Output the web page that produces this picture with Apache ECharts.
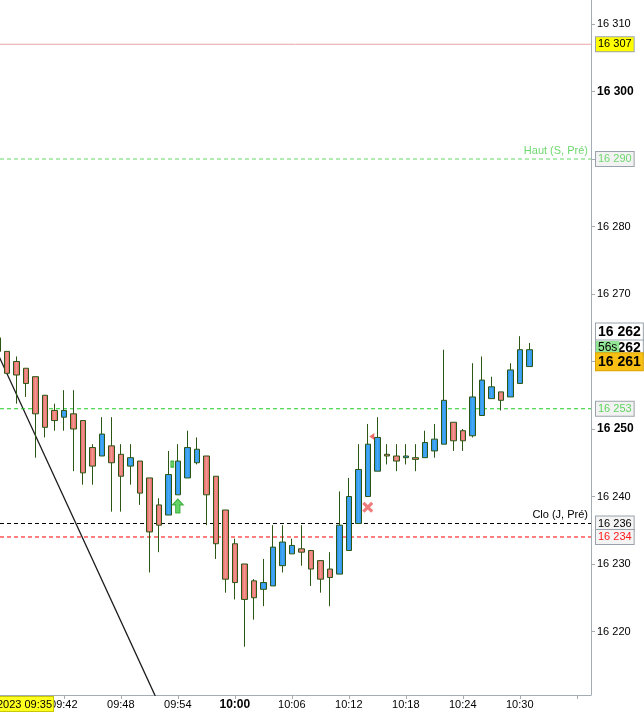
<!DOCTYPE html>
<html>
<head>
<meta charset="utf-8">
<title>chart</title>
<script src="https://cdn.jsdelivr.net/npm/echarts@6.0.0/dist/echarts.min.js"></script>
<style>
html,body{margin:0;padding:0;background:#fff;}
#chart{width:644px;height:712px;}
</style>
</head>
<body>
<div id="chart"></div>
<script>
// 1 minute bars, 09:35 -> 10:31
var times = ['09:35','09:36','09:37','09:38','09:39','09:40','09:41','09:42','09:43','09:44',
  '09:45','09:46','09:47','09:48','09:49','09:50','09:51','09:52','09:53','09:54',
  '09:55','09:56','09:57','09:58','09:59','10:00','10:01','10:02','10:03','10:04',
  '10:05','10:06','10:07','10:08','10:09','10:10','10:11','10:12','10:13','10:14',
  '10:15','10:16','10:17','10:18','10:19','10:20','10:21','10:22','10:23','10:24',
  '10:25','10:26','10:27','10:28','10:29','10:30','10:31'];
var opens = [16263.5,16261.5,16260,16259,16257.75,16255,16252.75,16251.75,16252.25,16251.25,
  16247.25,16246,16247.5,16246.25,16244.5,16245.25,16242.75,16238.75,16237.25,16240.25,
  16242.75,16245,16246,16243,16238,16233,16230,16227.5,16226.25,16226.75,
  16229.75,16231.5,16232.25,16232,16230.5,16229.25,16228.5,16232,16236,16240,
  16243.75,16246.25,16246,16245.75,16245.75,16245.75,16246.75,16247.75,16251,16249.75,
  16249,16252,16254.5,16255.5,16254.75,16256.75,16259.25];
var closes = [16261.5,16258.25,16258,16256.75,16252.25,16250.25,16251.25,16252.75,16250,16243.5,
  16244.5,16249.25,16245,16243,16245.75,16240.5,16234.75,16235.75,16243.25,16245.25,
  16247.25,16247,16240.25,16233,16227.75,16227.25,16224.75,16225,16227.25,16232.5,
  16233.25,16232.75,16231.75,16229.25,16227.75,16228,16235.75,16240,16244,16247.75,
  16248.75,16246,16245.25,16246,16245.5,16248,16248.5,16254.25,16248.25,16248.25,
  16254.75,16257.25,16256.25,16254.25,16258.75,16261.75,16261.75];
var lows = [16259,16258.25,16253.75,16254.75,16245.75,16248.75,16249.75,16249.75,16243.75,16241.75,
  16241.75,16246,16237.75,16237.75,16241.75,16238.75,16228.75,16231.75,16237.25,16240.25,
  16242.75,16244.75,16235.75,16230.75,16225.75,16224.75,16217.75,16221.75,16223.75,16226.75,
  16228.75,16231.5,16229.75,16226.75,16225.75,16223.75,16228.5,16232,16236,16240,
  16243.75,16244.75,16243.75,16244.75,16243.75,16245.75,16245.75,16247.75,16246.75,16246.75,
  16248.75,16252,16254.5,16252.75,16254.75,16256.75,16259.25];
var highs = [16264,16261.5,16260.75,16259,16257.75,16255,16253.75,16255.75,16255.75,16251.25,
  16247.75,16251.75,16251.75,16247.75,16247.75,16245.25,16242.75,16239.75,16246.75,16247.75,
  16249.75,16248.75,16246,16243,16238,16233.75,16230,16227.75,16230.75,16235.75,
  16235.75,16233.75,16235.75,16232,16230.5,16231.75,16240.75,16242.75,16247.75,16250.75,
  16251.75,16247.75,16247.75,16247.75,16247.75,16249.75,16250.75,16261.75,16251,16250,
  16259.75,16260.75,16257.75,16255.5,16259.75,16263.75,16262.75];

var xTicks = ['09:36','09:42','09:48','09:54','10:00','10:06','10:12','10:18','10:24','10:30','10:36'];
var xLabels = ['09:42','09:48','09:54','10:00','10:06','10:12','10:18','10:24','10:30'];
var yTicks = [16220,16230,16240,16250,16260,16270,16280,16290,16300,16310];
var yLabels = [16220,16230,16240,16250,16270,16280,16300,16310];

// reference levels
var levelValues = [16307, 16290, 16253, 16236, 16234];
var levelNames = ['', 'Haut (S, Pré)', '', 'Clo (J, Pré)', ''];
var lastPrice = 16261;
var askPrice = 16262;
var countdown = '56s';
var cursorLabel = '2023 09:35';

// signals
var buyArrows = [['09:54', 16238.6]];
var buyFlags = [['09:54', 16244.8]];
var sellCrosses = [['10:14', 16238.4]];
var sellFlags = [['10:14', 16248.9]];
var trendLine = [['09:35', 16261.3], ['09:52', 16209.3]];

var xMin = 575.28, xMax = 637.5;

function toMin(s){
  var p = s.split(':');
  return parseInt(p[0],10)*60 + parseInt(p[1],10);
}
function fromMin(m){
  m = Math.round(m);
  var h = Math.floor(m/60), mm = m % 60;
  return (h<10?'0':'') + h + ':' + (mm<10?'0':'') + mm;
}
function fmtPrice(v){
  var s = String(Math.round(v));
  return s.slice(0,2) + ' ' + s.slice(2);
}
function pts(list){
  return list.map(function(p){ return [toMin(p[0]), p[1]]; });
}

var candles = times.map(function(t,i){
  return [toMin(t), opens[i], closes[i], lows[i], highs[i]];
});

var redFill = {type:'linear',x:0,y:0,x2:1,y2:0,colorStops:[
  {offset:0,color:'#d95656'},{offset:0.5,color:'#f59791'},{offset:1,color:'#d95656'}]};
var blueFill = {type:'linear',x:0,y:0,x2:1,y2:0,colorStops:[
  {offset:0,color:'#2588e0'},{offset:0.5,color:'#45aaf7'},{offset:1,color:'#2588e0'}]};
var edge = '#2c5614';
var boxBorder = '#9aa3ab';

function box(text,bg,color,extra){
  var l = {
    show:true, position:'end', distance:5,
    formatter:text, backgroundColor:bg, color:color, opacity:1,
    borderColor:boxBorder, borderWidth:1, padding:[2,2,1,2],
    fontSize:11, fontFamily:'Liberation Sans'
  };
  for(var k in extra){ l[k] = extra[k]; }
  return l;
}
var hidden = {color:'rgba(255,255,255,0)', type:'solid', width:0};

var lineColors = ['#e9a5a5', '#66d866', '#22cc22', '#000000', '#ff0000'];
var boxStyles = [
  ['#ffff00','#000'],
  ['#f2f2f2','#6fd86f'],
  ['#f2f2f2','#5fd35f'],
  ['#f4f4f4','#000'],
  ['#f4f4f4','#ff1a1a']
];
var captionColors = ['#000','#6fd86f','#000','#000','#000'];

// level lines as plain line series across the plot
var levelSeries = levelValues.map(function(v,i){
  return {
    name:'level' + i, type:'line', data:[[xMin, v], [xMax, v]],
    symbol:'none', silent:true, clip:false, z:2,
    lineStyle:{color:lineColors[i], type: i === 0 ? 'solid' : [4,3], width:1}
  };
});

// captions and axis boxes
var boxData = [];
levelValues.forEach(function(v,i){
  if(levelNames[i]){
    boxData.push({yAxis:v, lineStyle:hidden,
      label:{show:true, position:'insideEndTop', distance:3, opacity:1,
        formatter:levelNames[i], color:captionColors[i], fontSize:11, fontFamily:'Liberation Sans'}});
  }
  boxData.push({
    yAxis:v, lineStyle:hidden,
    label: box(fmtPrice(v), boxStyles[i][0], boxStyles[i][1], {})
  });
});
boxData.push({yAxis:askPrice, lineStyle:hidden,
  label: box(fmtPrice(askPrice), '#ffffff', '#000', {fontSize:14, fontWeight:'bold', offset:[0,-16], padding:[2,2,1,2]})});
boxData.push({yAxis:askPrice, lineStyle:hidden,
  label: box(fmtPrice(askPrice), '#ffffff', '#000', {fontSize:14, fontWeight:'bold', padding:[1,2,0,2]})});
boxData.push({yAxis:askPrice, lineStyle:hidden,
  label: box(countdown, '#93e693', '#000', {fontSize:12, borderWidth:0, padding:[1,2,1,2]})});
boxData.push({yAxis:lastPrice, lineStyle:hidden,
  label: box(fmtPrice(lastPrice), '#f8bf14', '#000', {fontSize:14, fontWeight:'bold', offset:[0,7], padding:[2,2,1,2], borderColor:'#d9a200'})});

var chart = echarts.init(document.getElementById('chart'));
var option = {
  animation:false,
  backgroundColor:'#ffffff',
  textStyle:{fontFamily:'Liberation Sans, Arial, sans-serif'},
  grid:{left:0, right:53, top:0, bottom:17, containLabel:false, outerBoundsMode:'none'},
  xAxis:{
    type:'value',
    min:xMin, max:xMax,
    axisLine:{show:true, lineStyle:{color:'#a4acb4', width:1}},
    axisTick:{show:true, length:4, customValues:xTicks.map(toMin), lineStyle:{color:'#a4acb4'}},
    axisLabel:{
      show:true, margin:4, color:'#000', fontSize:11,
      customValues:xLabels.map(toMin),
      formatter:function(v){
        var s = fromMin(v);
        return s === '10:00' ? '{b|' + s + '}' : s;
      },
      rich:{b:{fontWeight:'bold', fontSize:12, color:'#000'}}
    },
    splitLine:{show:false}
  },
  yAxis:{
    type:'value', position:'right',
    min:16210.59, max:16313.56,
    axisLine:{show:true, lineStyle:{color:'#a4acb4', width:1}},
    axisTick:{show:true, length:4, customValues:yTicks, lineStyle:{color:'#a4acb4'}},
    axisLabel:{
      show:true, margin:6, color:'#000', fontSize:11,
      customValues:yLabels,
      formatter:function(v){
        var s = fmtPrice(v);
        return v % 50 === 0 ? '{b|' + s + '}' : s;
      },
      rich:{b:{fontWeight:'bold', fontSize:12, color:'#000'}}
    },
    splitLine:{show:false}
  },
  graphic:[{
    type:'text', right:590, bottom:0, z:100,
    style:{text:cursorLabel, fill:'#000', fontSize:11, fontFamily:'Liberation Sans',
      backgroundColor:'#ffff20', borderColor:'#c8c800', borderWidth:1, padding:[2,1,1,2]}
  }],
  series:[
    {
      name:'trend', type:'line', data:pts(trendLine),
      symbol:'none', silent:true, clip:true,
      lineStyle:{color:'#1a1a1a', width:1.3}, z:1
    }
  ].concat(levelSeries).concat([
    {
      name:'price', type:'candlestick', data:candles,
      encode:{x:0, y:[1,2,3,4]},
      barWidth:6, clip:true, z:3,
      itemStyle:{
        color:blueFill, color0:redFill,
        borderColor:edge, borderColor0:edge, borderColorDoji:edge,
        borderWidth:1
      }
    },
    {
      name:'boxes', type:'line', data:[], clip:false, z:10, silent:true,
      markLine:{silent:true, symbol:'none', animation:false,
        lineStyle:{color:'rgba(255,255,255,0)', width:0, type:'solid'},
        data:boxData}
    },
    {
      name:'buy', type:'scatter', data:pts(buyArrows), z:5,
      symbol:'path://M5,0 L10,5.5 L7,5.5 L7,13 L3,13 L3,5.5 L0,5.5 Z',
      symbolSize:[11,14],
      itemStyle:{color:'#3fc83f', borderColor:'#24a024', borderWidth:1}
    },
    {
      name:'buyFlag', type:'scatter', data:pts(buyFlags), z:5,
      symbol:'rect', symbolSize:[3,6], symbolOffset:[-5.5,0],
      itemStyle:{color:'#3fc83f', borderColor:'#24a024', borderWidth:1}
    },
    {
      name:'sell', type:'scatter', data:pts(sellCrosses), z:5,
      symbol:'path://M2,0 L5,3 L8,0 L10,2 L7,5 L10,8 L8,10 L5,7 L2,10 L0,8 L3,5 L0,2 Z',
      symbolSize:11,
      itemStyle:{color:'#ec5a5a'}
    },
    {
      name:'sellFlag', type:'scatter', data:pts(sellFlags), z:5,
      symbol:'path://M0,5 L6,0 L6,10 Z', symbolSize:[5,7], symbolOffset:[4,0],
      itemStyle:{color:'#e84848'}
    }
  ])
};
chart.setOption(option);
</script>
</body>
</html>
